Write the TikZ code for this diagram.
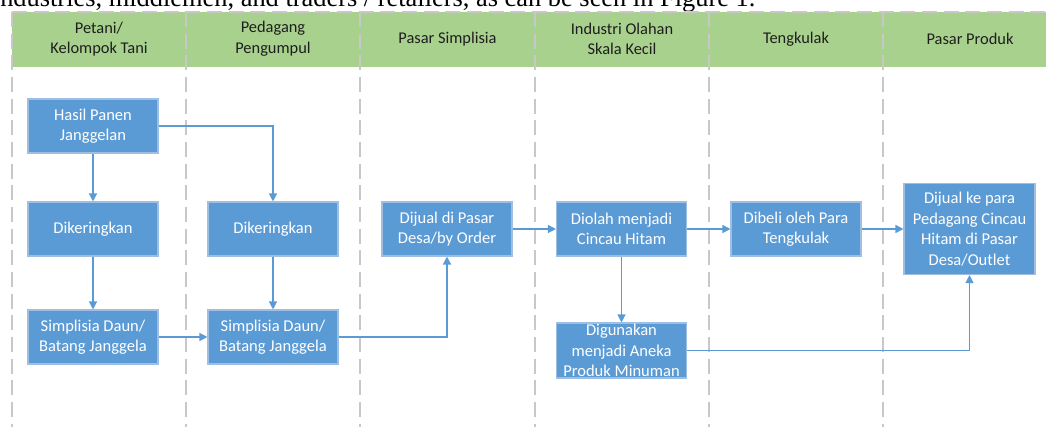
\documentclass[tikz,border=0pt]{standalone}
\usepackage{fontspec}
\setmainfont{Carlito}
\newfontfamily\capfont{Liberation Serif}
\usetikzlibrary{arrows.meta, positioning}
\definecolor{BL}{RGB}{91,155,213}
\definecolor{BD}{RGB}{160,190,225}
\definecolor{GH}{RGB}{169,209,142}
\definecolor{LG}{RGB}{200,200,200}
\definecolor{DG}{RGB}{30,30,30}

\begin{document}
\begin{tikzpicture}[x=0.75pt, y=-0.75pt,
  lane/.style={draw=LG, line width=1.5pt, dash pattern=on 11.25pt off 5pt},
  hdr/.style={align=center, font=\fontsize{12.3}{15.5}\selectfont, text=DG},
  box/.style={draw=BD, fill=BL, line width=0.8pt, text=white, align=center,
              minimum width=97.5pt, minimum height=40.5pt, inner sep=0pt,
              font=\fontsize{12.4}{15.4}\selectfont},
  flow/.style={draw=BL, line width=0.9pt, -{Triangle[length=6pt,width=6pt]}}
]
\useasboundingbox (0,0) rectangle (1046,427);
\clip (0,0) rectangle (1046,427);

% cut-off sentence above the figure
\node[font=\capfont\fontsize{19.8}{23}\selectfont, anchor=base west, inner sep=0pt]
  (caption) at (0,6.5) {ndustries, middlemen, and traders / retailers, as can be seen in Figure 1.};

% header band and swimlanes
\fill[GH] (12,12) rectangle (1060,67);
\draw[lane] (12,12) -- (1060,12);
\foreach \x in {12,186,360,535,709,883}
  { \draw[lane] (\x,12) -- (\x,427); }

% lane titles
\foreach \i/\cx/\t in {1/99/{Petani/\\Kelompok Tani}, 2/273/{Pedagang\\Pengumpul},
                       3/447.5/{Pasar Simplisia}, 4/622/{Industri Olahan\\Skala Kecil},
                       5/796/{Tengkulak}, 6/970/{Pasar Produk}}
  { \node[hdr] (lane\i) at (\cx,39) {\t}; }

% process boxes
\node[box] (hasil) at (93,126)  {Hasil Panen\\Janggelan};
\node[box] (dikA)  at (93,229)  {Dikeringkan};
\node[box] (simpA) at (93,337)  {Simplisia Daun/\\Batang Janggela};
\node[box] (dikB)  at (273,229) {Dikeringkan};
\node[box] (simpB) at (273,337) {Simplisia Daun/\\Batang Janggela};
\node[box] (pasar) at (447,229) {Dijual di Pasar\\Desa/by Order};
\node[box] (olah)  at (621.5,229) {Diolah menjadi\\Cincau Hitam};
\node[box, minimum height=41.25pt] (guna) at (621.5,350.5)
  {Digunakan\\menjadi Aneka\\Produk Minuman};
\node[box] (beli)  at (796,229) {Dibeli oleh Para\\Tengkulak};
\node[box, minimum width=98.25pt, minimum height=68.25pt] (jual) at (969.5,229)
  {Dijual ke para\\Pedagang Cincau\\Hitam di Pasar\\Desa/Outlet};

% flows
\draw[flow] (hasil) -- (dikA);
\draw[flow] (hasil.east) -| (dikB.north);
\draw[flow] (dikA) -- (simpA);
\draw[flow] (dikB) -- (simpB);
\draw[flow] (simpA) -- (simpB);
\draw[flow] (simpB.east) -| (pasar.south);
\draw[flow] (pasar) -- (olah);
\draw[flow] (olah) -- (beli);
\draw[flow] (beli) -- (jual);
\draw[flow] (olah) -- (guna);
\draw[flow] (guna.east) -| (jual.south);
\end{tikzpicture}
\end{document}
